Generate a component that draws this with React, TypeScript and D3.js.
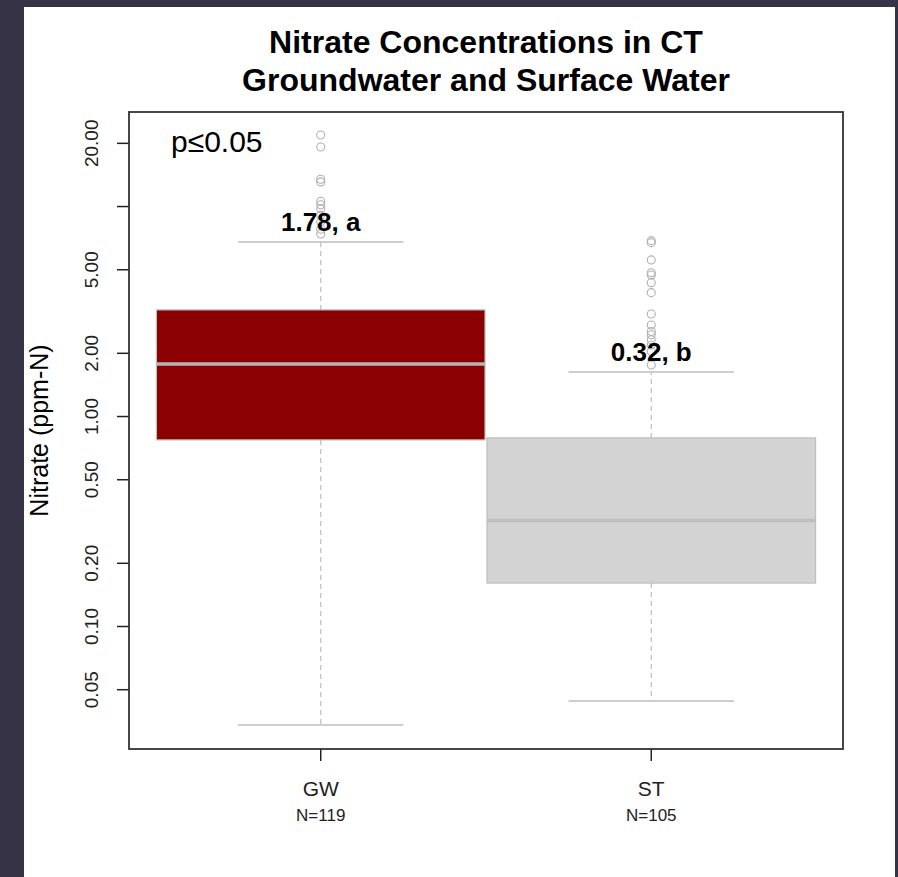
import React from 'react';
import * as d3 from 'd3';

// values (ppm-N)
const categories = ['GW', 'ST'];
const counts = [119, 105];
const medians = [1.78, 0.32];
const q1 = [0.774, 0.161];
const q3 = [3.22, 0.791];
const whiskerLow = [0.034, 0.0442];
const whiskerHigh = [6.78, 1.63];
const letters = ['a', 'b'];
const fills = ['#8b0000', '#d3d3d3'];

const outliersGW = [21.9, 19.2, 13.5, 13.1, 10.6, 10.2, 9.75, 9.1, 8.45, 7.8, 7.4];
const outliersST = [6.88, 6.73, 5.57, 4.84, 4.72, 4.34, 3.89, 3.08, 2.73, 2.54, 2.45, 2.32, 2.19, 2.04, 1.76];
const outliers = [outliersGW, outliersST];

const yTicks = [0.05, 0.1, 0.2, 0.5, 1, 2, 5, 10, 20];
const yTickLabels = ['0.05', '0.10', '0.20', '0.50', '1.00', '2.00', '5.00', '', '20.00'];

const W = 898;
const H = 877;
const left = 129, right = 843, top = 112, bottom = 749;
const grey = '#bebebe';
const font = '"Liberation Sans", Arial, sans-serif';

export default function App() {
  const x = d3.scaleLinear().domain([0.42, 2.58]).range([left, right]);
  const y = d3.scaleLog().domain([0.0261, 28.2]).range([bottom, top]);
  const boxHalf = x(0.497) - x(0);
  const capHalf = x(0.25) - x(0);

  return (
    <svg width={W} height={H} style={{ position: 'absolute', left: 0, top: 0, fontFamily: font }}>
      <rect x={0} y={0} width={W} height={H} fill="#363346" />
      <rect x={24} y={7} width={871} height={H - 7} fill="#ffffff" />

      {/* title */}
      <text x={(left + right) / 2} y={53} textAnchor="middle" fontSize={32} fontWeight="bold">
        Nitrate Concentrations in CT
      </text>
      <text x={(left + right) / 2} y={91} textAnchor="middle" fontSize={32} fontWeight="bold">
        Groundwater and Surface Water
      </text>

      {categories.map((c, i) => {
        const cx = x(i + 1);
        return (
          <g key={c}>
            {/* whiskers */}
            <line x1={cx} x2={cx} y1={y(q3[i])} y2={y(whiskerHigh[i])} stroke={grey} strokeWidth={1.2} strokeDasharray="5,4" />
            <line x1={cx} x2={cx} y1={y(q1[i])} y2={y(whiskerLow[i])} stroke={grey} strokeWidth={1.2} strokeDasharray="5,4" />
            <line x1={cx - capHalf} x2={cx + capHalf} y1={y(whiskerHigh[i])} y2={y(whiskerHigh[i])} stroke={grey} strokeWidth={1.5} />
            <line x1={cx - capHalf} x2={cx + capHalf} y1={y(whiskerLow[i])} y2={y(whiskerLow[i])} stroke={grey} strokeWidth={1.5} />
            {/* box */}
            <rect x={cx - boxHalf} y={y(q3[i])} width={boxHalf * 2} height={y(q1[i]) - y(q3[i])} fill={fills[i]} stroke={grey} strokeWidth={1.2} />
            <line x1={cx - boxHalf} x2={cx + boxHalf} y1={y(medians[i])} y2={y(medians[i])} stroke={i === 0 ? '#b4b4b4' : '#bebebe'} strokeWidth={3.5} />
            {/* outliers */}
            {outliers[i].map((v, j) => (
              <circle key={j} cx={cx} cy={y(v)} r={4} fill="none" stroke="#b0b0b0" strokeWidth={1.1} />
            ))}
            {/* median label */}
            <text x={cx} y={y(whiskerHigh[i]) - 11} textAnchor="middle" fontSize={26} fontWeight="bold">
              {medians[i].toFixed(2)}, {letters[i]}
            </text>
            {/* x axis */}
            <line x1={cx} x2={cx} y1={bottom} y2={bottom + 12} stroke="#222" strokeWidth={1.5} />
            <text x={cx} y={796} textAnchor="middle" fontSize={21} fill="#222">{c}</text>
            <text x={cx} y={821} textAnchor="middle" fontSize={17} fill="#222">N={counts[i]}</text>
          </g>
        );
      })}

      {/* y axis */}
      {yTicks.map((t, i) => (
        <g key={t}>
          <line x1={left - 12} x2={left} y1={y(t)} y2={y(t)} stroke="#222" strokeWidth={1.5} />
          <text transform={`translate(${98},${y(t)}) rotate(-90)`} textAnchor="middle" fontSize={19} fill="#222">
            {yTickLabels[i]}
          </text>
        </g>
      ))}
      <text transform={`translate(${48},${(top + bottom) / 2}) rotate(-90)`} textAnchor="middle" fontSize={25} fill="#000">
        Nitrate (ppm-N)
      </text>

      <text x={171} y={152} fontSize={30} fill="#000">p≤0.05</text>

      <rect x={left} y={top} width={right - left} height={bottom - top} fill="none" stroke="#333" strokeWidth={1.8} />
    </svg>
  );
}
